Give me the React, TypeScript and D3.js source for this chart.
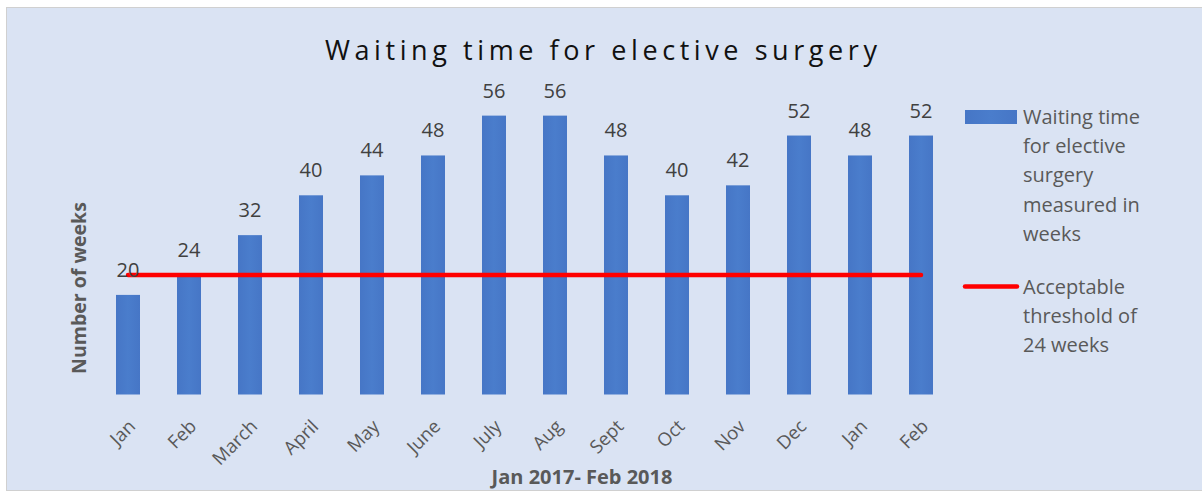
import React from "react";
import * as d3 from "d3";

const months = ["Jan", "Feb", "March", "April", "May", "June", "July", "Aug", "Sept", "Oct", "Nov", "Dec", "Jan", "Feb"];
const waitingWeeks = [20, 24, 32, 40, 44, 48, 56, 56, 48, 40, 42, 52, 48, 52];
const threshold = 24;
const titleText = "Waiting time for elective surgery";
const legendBarLines = ["Waiting time", "for elective", "surgery", "measured in", "weeks"];
const legendLineLines = ["Acceptable", "threshold of", "24 weeks"];
const xTitle = "Jan 2017- Feb 2018";
const yTitle = "Number of weeks";

const W = 1202;
const H = 491;
const FONT = "'Open Sans', 'Noto Sans', sans-serif";

export default function App() {
  const x = d3.scalePoint<number>().domain(d3.range(months.length)).range([97.5, 951.5]).padding(0.5);
  const y = d3.scaleLinear().domain([0, 60]).range([394.5, 95.7]);
  const barW = 24;
  const idx = d3.range(months.length);
  const lineGen = d3.line<number>().x((i) => x(i)!).y(() => y(threshold));

  return (
    <div style={{ position: "fixed", left: 0, top: 0 }}>
      <svg width={W} height={H} style={{ display: "block", background: "#fff" }}>
        <defs>
          <linearGradient id="barGrad" x1="0" x2="1" y1="0" y2="0">
            <stop offset="0" stopColor="#4676c6" />
            <stop offset="0.5" stopColor="#4a7dcc" />
            <stop offset="1" stopColor="#4676c6" />
          </linearGradient>
        </defs>
        <rect x={6.5} y={7.5} width={W - 6} height={H - 8} fill="#DAE3F3" stroke="#D0D0D0" strokeWidth={1} />
        <text
          x={601}
          y={60}
          textAnchor="middle"
          fontFamily={FONT}
          fontSize={27}
          fill="#111"
          textLength={552}
          lengthAdjust="spacing"
        >
          {titleText}
        </text>
        {idx.map((i) => (
          <rect
            key={"b" + i}
            x={x(i)! - barW / 2}
            y={y(waitingWeeks[i])}
            width={barW}
            height={y(0) - y(waitingWeeks[i])}
            fill="url(#barGrad)"
          />
        ))}
        <path d={lineGen(idx)!} stroke="#FF0000" strokeWidth={4.5} fill="none" strokeLinecap="round" />
        {idx.map((i) => (
          <text
            key={"v" + i}
            x={x(i)!}
            y={y(waitingWeeks[i]) - 18}
            textAnchor="middle"
            fontFamily={FONT}
            fontSize={20}
            fill="#404040"
          >
            {waitingWeeks[i]}
          </text>
        ))}
        {idx.map((i) => (
          <text
            key={"m" + i}
            transform={`translate(${x(i)! + 4},${423}) rotate(-45)`}
            textAnchor="end"
            fontFamily={FONT}
            fontSize={18.5}
            fill="#595959"
            dy="0.35em"
          >
            {months[i]}
          </text>
        ))}
        <text x={582} y={484} textAnchor="middle" fontFamily={FONT} fontSize={20} fontWeight="bold" fill="#595959">
          {xTitle}
        </text>
        <text
          transform={`translate(86,288) rotate(-90)`}
          textAnchor="middle"
          fontFamily={FONT}
          fontSize={19.5}
          fontWeight="bold"
          fill="#595959"
        >
          {yTitle}
        </text>
        <rect x={965} y={110} width={52} height={14} fill="url(#barGrad)" />
        {legendBarLines.map((t, k) => (
          <text key={"l1" + k} x={1023} y={117 + k * 29.2} dy="0.35em" fontFamily={FONT} fontSize={20} fill="#595959">
            {t}
          </text>
        ))}
        <line x1={965} x2={1017} y1={286.5} y2={286.5} stroke="#FF0000" strokeWidth={4.5} strokeLinecap="round" />
        {legendLineLines.map((t, k) => (
          <text key={"l2" + k} x={1023} y={287 + k * 29.2} dy="0.35em" fontFamily={FONT} fontSize={20} fill="#595959">
            {t}
          </text>
        ))}
      </svg>
    </div>
  );
}
